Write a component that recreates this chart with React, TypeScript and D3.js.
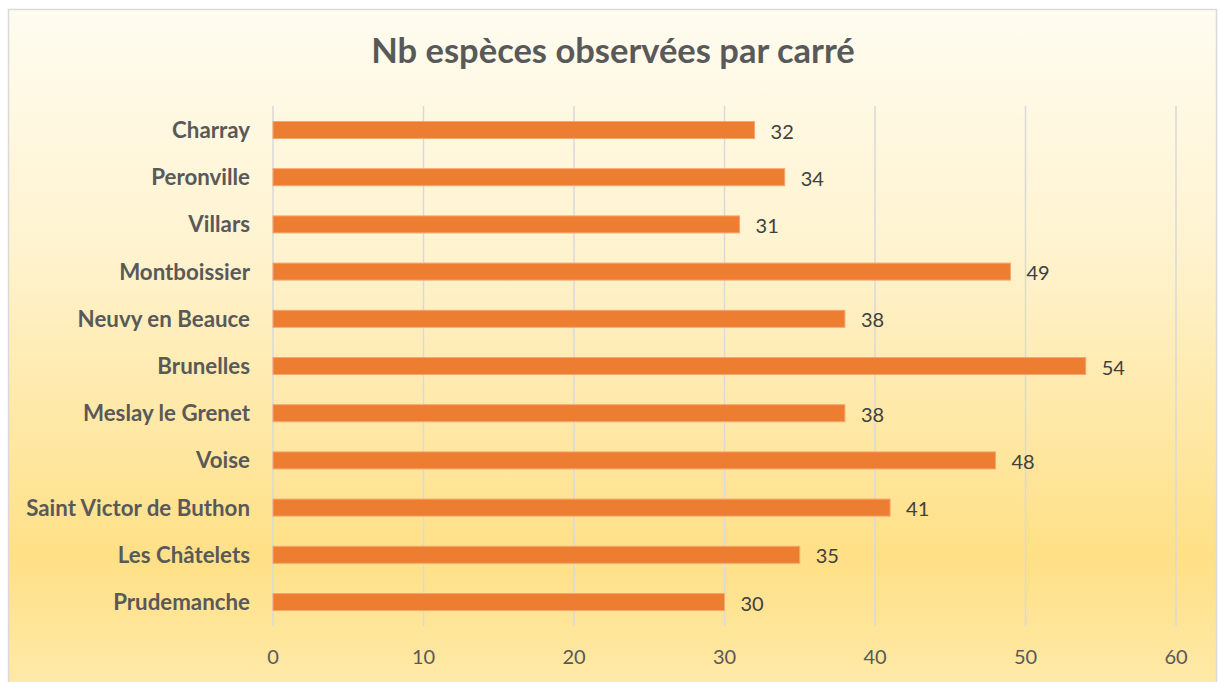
import React from "react";
import * as d3 from "d3";

const categories = [
  "Charray",
  "Peronville",
  "Villars",
  "Montboissier",
  "Neuvy en Beauce",
  "Brunelles",
  "Meslay le Grenet",
  "Voise",
  "Saint Victor de Buthon",
  "Les Châtelets",
  "Prudemanche",
];
const values = [32, 34, 31, 49, 38, 54, 38, 48, 41, 35, 30];
const xTicks = [0, 10, 20, 30, 40, 50, 60];
const title = "Nb espèces observées par carré";

const W = 1222;
const H = 682;
const FONT = "Lato, 'Open Sans', sans-serif";

export default function App() {
  const x = d3.scaleLinear().domain([0, 60]).range([273, 1176]);
  const y = d3
    .scaleBand<string>()
    .domain(categories)
    .range([106.4, 625.6])
    .paddingInner(0.64)
    .paddingOuter(0.32);

  return (
    <svg
      width={W}
      height={H}
      style={{ position: "absolute", left: 0, top: 0, display: "block" }}
    >
      <defs>
        <linearGradient id="bg" x1="0" y1="0" x2="0" y2="1">
          <stop offset="0" stopColor="#FFFCF0" />
          <stop offset="0.35" stopColor="#FFF3CF" />
          <stop offset="0.8" stopColor="#FFE086" />
          <stop offset="1" stopColor="#FFEAAA" />
        </linearGradient>
      </defs>
      <rect
        x={8.5}
        y={9.5}
        width={1208}
        height={685}
        fill="url(#bg)"
        stroke="#D9D9D9"
        strokeWidth={1.5}
      />
      <text
        x={613}
        y={63}
        textAnchor="middle"
        fontFamily={FONT}
        fontWeight={700}
        fontSize={34.5}
        fill="#595959"
      >
        {title}
      </text>
      {xTicks.map((t) => (
        <g key={t}>
          <line
            x1={x(t)}
            x2={x(t)}
            y1={106}
            y2={626}
            stroke="#D9D9D9"
            strokeWidth={1.5}
          />
          <text
            x={x(t)}
            y={664}
            textAnchor="middle"
            fontFamily={FONT}
            fontSize={20}
            fill="#595959"
          >
            {t}
          </text>
        </g>
      ))}
      {categories.map((c, i) => {
        const yy = y(c) as number;
        const bw = y.bandwidth();
        const cy = yy + bw / 2;
        return (
          <g key={c}>
            <rect
              x={x(0)}
              y={yy}
              width={x(values[i]) - x(0)}
              height={bw}
              fill="#ED7D31"
              stroke="#F5A56E"
              strokeWidth={1}
            />
            <text
              x={x(0) - 23}
              y={cy + 8}
              textAnchor="end"
              fontFamily={FONT}
              fontWeight={700}
              fontSize={22.3}
              fill="#595959"
            >
              {c}
            </text>
            <text
              x={x(values[i]) + 16}
              y={cy + 8.5}
              fontFamily={FONT}
              fontSize={20}
              fill="#404040"
            >
              {values[i]}
            </text>
          </g>
        );
      })}
    </svg>
  );
}
